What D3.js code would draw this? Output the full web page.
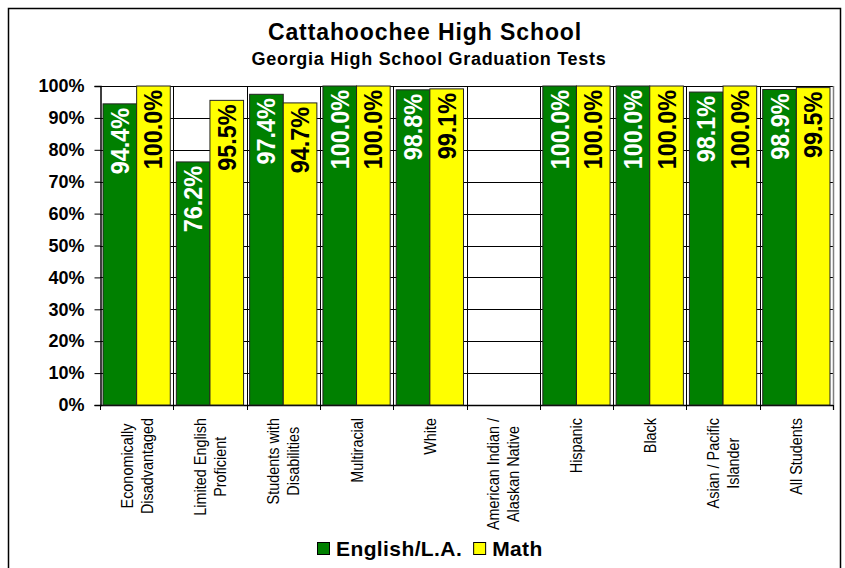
<!DOCTYPE html>
<html>
<head>
<meta charset="utf-8">
<script src="https://cdn.jsdelivr.net/npm/d3@7"></script>
<style>
  body { margin: 0; background: #fff; }
  text { font-family: "Liberation Sans", Arial, sans-serif; }
</style>
</head>
<body>
<div id="chart"></div>
<script>
// chart data
var categories = [
  ["Economically", "Disadvantaged"],
  ["Limited English", "Proficient"],
  ["Students with", "Disabilities"],
  ["Multiracial"],
  ["White"],
  ["American Indian /", "Alaskan Native"],
  ["Hispanic"],
  ["Black"],
  ["Asian / Pacific", "Islander"],
  ["All Students"]
];
var englishValues = [94.4, 76.2, 97.4, 100.0, 98.8, null, 100.0, 100.0, 98.1, 98.9];
var mathValues = [100.0, 95.5, 94.7, 100.0, 99.1, null, 100.0, 100.0, 100.0, 99.5];
var seriesNames = ["English/L.A.", "Math"];
var seriesColors = ["#008000", "#ffff00"];
var labelColors = ["#ffffff", "#000000"];
var yTicks = [0, 10, 20, 30, 40, 50, 60, 70, 80, 90, 100];

var width = 845, height = 568;
var margin = {top: 86, right: 12, bottom: 163, left: 100};
var plotW = width - margin.left - margin.right,
    plotH = height - margin.top - margin.bottom;

var svg = d3.select("#chart").append("svg")
    .attr("width", width)
    .attr("height", height);

// outer chart border
svg.append("rect")
    .attr("x", 8.5).attr("y", 8.5)
    .attr("width", 832).attr("height", 580)
    .attr("fill", "none").attr("stroke", "#000").attr("stroke-width", 1.5);

// titles
svg.append("text")
    .attr("x", 425).attr("y", 40)
    .attr("text-anchor", "middle")
    .style("font-weight", "bold").style("font-size", "23px")
    .style("letter-spacing", "0.9px")
    .text("Cattahoochee High School");
svg.append("text")
    .attr("x", 429).attr("y", 65)
    .attr("text-anchor", "middle")
    .style("font-weight", "bold").style("font-size", "18px")
    .style("letter-spacing", "0.7px")
    .text("Georgia High School Graduation Tests");

var g = svg.append("g")
    .attr("transform", "translate(" + margin.left + "," + margin.top + ")");

var idx = d3.range(categories.length);
var x0 = d3.scaleBand().domain(idx).range([0, plotW]).padding(0);
var x1 = d3.scaleBand().domain([0, 1]).range([0, x0.bandwidth()])
    .paddingInner(0).paddingOuter(0.09);
var y = d3.scaleLinear().domain([0, 100]).range([plotH, 0]);

// horizontal gridlines
g.selectAll(".hgrid").data(yTicks).enter().append("line")
    .attr("x1", 0).attr("x2", plotW)
    .attr("y1", function(d) { return Math.round(y(d)) + 0.5; })
    .attr("y2", function(d) { return Math.round(y(d)) + 0.5; })
    .attr("stroke", "#000").attr("stroke-width", 1);

// vertical lines between categories
g.selectAll(".vgrid").data(idx.slice(1)).enter().append("line")
    .attr("x1", function(d) { return Math.round(x0(d)) + 0.5; })
    .attr("x2", function(d) { return Math.round(x0(d)) + 0.5; })
    .attr("y1", 0).attr("y2", plotH + 5)
    .attr("stroke", "#000").attr("stroke-width", 1);

// right edge of plot
g.append("line")
    .attr("x1", plotW + 0.5).attr("x2", plotW + 0.5)
    .attr("y1", 0).attr("y2", plotH + 5)
    .attr("stroke", "#808080").attr("stroke-width", 1.5);

// y axis
var yAxis = g.append("g")
    .attr("transform", "translate(0.5,0)")
    .call(d3.axisLeft(y).tickValues(yTicks).tickSize(6).tickPadding(10)
      .tickFormat(function(d) { return d + "%"; }));
yAxis.select(".domain").attr("stroke", "#000").attr("stroke-width", 1.5);
yAxis.selectAll("text")
    .style("font-family", "'Liberation Sans', Arial, sans-serif")
    .style("font-size", "18px").style("font-weight", "bold").attr("fill", "#000");

// x axis ticks at category boundaries
g.selectAll(".xtick").data(d3.range(categories.length + 1)).enter().append("line")
    .attr("x1", function(d) { return Math.round(d * x0.step()) + 0.5; })
    .attr("x2", function(d) { return Math.round(d * x0.step()) + 0.5; })
    .attr("y1", plotH).attr("y2", plotH + 5)
    .attr("stroke", "#000");
g.append("line")
    .attr("x1", 0).attr("x2", plotW)
    .attr("y1", plotH + 0.5).attr("y2", plotH + 0.5)
    .attr("stroke", "#000").attr("stroke-width", 1.5);

// bars
var rows = [];
idx.forEach(function(i) {
  [englishValues[i], mathValues[i]].forEach(function(v, s) {
    if (v !== null) rows.push({cat: i, s: s, v: v});
  });
});

g.selectAll(".bar").data(rows).enter().append("rect")
    .attr("x", function(d) { return x0(d.cat) + x1(d.s); })
    .attr("y", function(d) { return y(d.v); })
    .attr("width", x1.bandwidth())
    .attr("height", function(d) { return plotH - y(d.v); })
    .attr("fill", function(d) { return seriesColors[d.s]; })
    .attr("stroke", "#222").attr("stroke-width", 1);

// value labels inside bars
g.selectAll(".val").data(rows).enter().append("text")
    .attr("transform", function(d) {
      var cx = x0(d.cat) + x1(d.s) + x1.bandwidth() / 2 + 9;
      return "translate(" + cx + "," + (y(d.v) + 4) + ") rotate(-90) scale(0.9,1)";
    })
    .attr("text-anchor", "end")
    .style("font-size", "26px").style("font-weight", "bold")
    .attr("fill", function(d) { return labelColors[d.s]; })
    .text(function(d) { return d.v.toFixed(1) + "%"; });

// category labels
idx.forEach(function(i) {
  var lines = categories[i];
  var lg = g.append("g")
      .attr("transform", "translate(" + (x0(i) + x0.bandwidth() / 2) + "," + (plotH + 13) + ") rotate(-90) scale(0.9,1)");
  var texts = lg.selectAll("text").data(lines).enter().append("text")
      .attr("text-anchor", "middle")
      .attr("y", function(d, k) { return (k - (lines.length - 1) / 2) * 20 + 6; })
      .style("font-size", "16px")
      .attr("fill", "#000")
      .text(function(d) { return d; });
  var w = d3.max(texts.nodes(), function(n) { return n.getComputedTextLength(); });
  texts.attr("x", -w / 2);
});

// legend
var legend = svg.append("g").attr("transform", "translate(317,542)");
var lx = 0;
seriesNames.forEach(function(name, s) {
  legend.append("rect")
      .attr("x", lx + 0.5).attr("y", 0.5)
      .attr("width", 12).attr("height", 12)
      .attr("fill", seriesColors[s]).attr("stroke", "#000");
  var t = legend.append("text")
      .attr("x", lx + 19).attr("y", 14)
      .style("font-size", "21px").style("font-weight", "bold")
      .style("letter-spacing", "0.4px")
      .text(name);
  lx += 19 + t.node().getComputedTextLength() + 11;
});
</script>
</body>
</html>
